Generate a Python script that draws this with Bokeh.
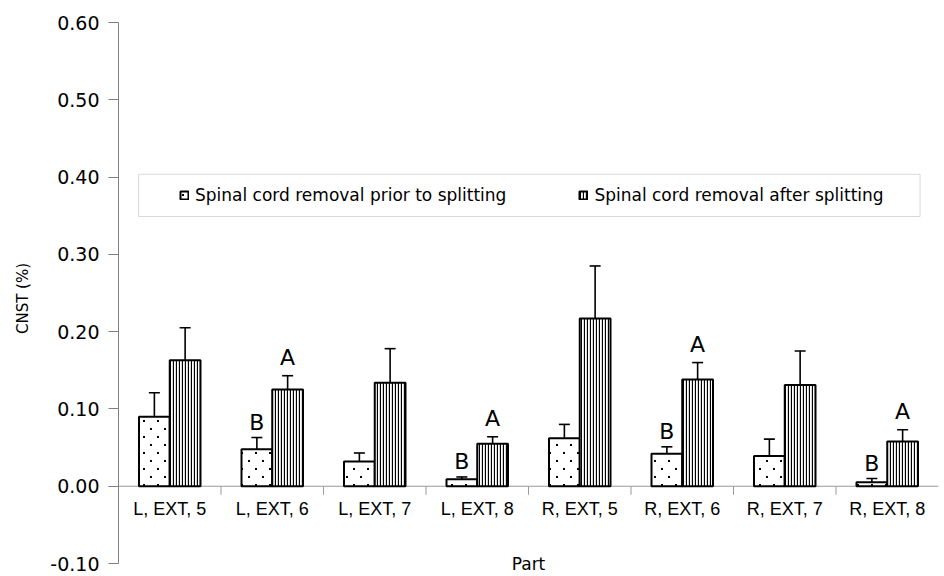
import base64
from bokeh.plotting import figure
from bokeh.models import (Range1d, ColumnDataSource, Whisker, TeeHead, Span, Label,
                          Legend, LegendItem, BoxAnnotation, FixedTicker, NumeralTickFormatter,
                          ImageURLTexture)
from bokeh.core.properties import value
from bokeh.embed import file_html
from bokeh.resources import INLINE

# ---------------- data ----------------
categories = ["L, EXT, 5", "L, EXT, 6", "L, EXT, 7", "L, EXT, 8",
              "R, EXT, 5", "R, EXT, 6", "R, EXT, 7", "R, EXT, 8"]
prior_mean = [0.090, 0.048, 0.032, 0.009, 0.062, 0.042, 0.039, 0.005]
prior_err = [0.031, 0.015, 0.011, 0.003, 0.018, 0.009, 0.022, 0.005]
after_mean = [0.163, 0.125, 0.134, 0.055, 0.217, 0.138, 0.131, 0.058]
after_err = [0.042, 0.018, 0.044, 0.009, 0.068, 0.022, 0.044, 0.015]
prior_letters = ["", "B", "", "B", "", "B", "", "B"]
after_letters = ["", "A", "", "A", "", "A", "", "A"]
series_names = ["Spinal cord removal prior to splitting",
                "Spinal cord removal after splitting"]
y_ticks = [-0.10, 0.00, 0.10, 0.20, 0.30, 0.40, 0.50, 0.60]
y_label = "CNST (%)"
x_label = "Part"

# ---------------- styling constants ----------------
BAR_W = 0.30
TICK_LEN = 0.011
Y_PAD = 0.0142          # room below the axis end for the "Part" title
AXIS_GRAY = "#808080"
ZERO_GRAY = "#9a9a9a"
FONT = "DejaVu Sans"
LBL_FONT = "Liberation Sans"

# sparse staggered dot texture (styling only)
dot_svg = ("<svg xmlns='http://www.w3.org/2000/svg' width='14' height='16'>"
           "<rect x='3' y='4' width='2' height='2' fill='black'/>"
           "<rect x='10' y='12' width='2' height='2' fill='black'/></svg>")
dot_url = "data:image/svg+xml;base64," + base64.b64encode(dot_svg.encode()).decode()
dot_texture = ImageURLTexture(url=dot_url, repetition="repeat")

n = len(categories)
centers = [i + 0.5 for i in range(n)]
src = ColumnDataSource(dict(
    xp=[c - BAR_W / 2 for c in centers],
    xa=[c + BAR_W / 2 for c in centers],
    prior=prior_mean,
    after=after_mean,
    prior_hi=[m + e for m, e in zip(prior_mean, prior_err)],
    prior_lo=[m - e for m, e in zip(prior_mean, prior_err)],
    after_hi=[m + e for m, e in zip(after_mean, after_err)],
    after_lo=[m - e for m, e in zip(after_mean, after_err)],
    pl=prior_letters,
    al=after_letters,
))

p = figure(width=940, height=574, x_range=Range1d(0, n),
           y_range=Range1d(y_ticks[0] - Y_PAD, y_ticks[-1]),
           output_backend="svg", toolbar_location=None, x_axis_location=None,
           min_border_left=118, min_border_right=2, min_border_top=22, min_border_bottom=0)
p.grid.visible = False
p.outline_line_color = None
p.background_fill_color = "white"

# y axis
yax = p.yaxis[0]
yax.bounds = (y_ticks[0], y_ticks[-1])
yax.ticker = FixedTicker(ticks=y_ticks, minor_ticks=[])
yax.formatter = NumeralTickFormatter(format="0.00")
yax.major_tick_out = 10
yax.major_tick_in = 0
yax.minor_tick_out = 0
yax.axis_line_color = AXIS_GRAY
yax.major_tick_line_color = AXIS_GRAY
yax.major_label_standoff = 9
yax.major_label_text_font = FONT
yax.major_label_text_font_size = "19px"
yax.major_label_text_color = "black"
yax.axis_label = y_label
yax.axis_label_text_font = FONT
yax.axis_label_text_font_size = "15px"
yax.axis_label_text_font_style = "normal"
yax.axis_label_text_color = "black"
yax.axis_label_standoff = 15

# zero line + category boundary ticks
p.add_layout(Span(location=0, dimension="width", line_color=ZERO_GRAY, line_width=1, level="underlay"))
bounds = list(range(1, n))
p.segment(x0=bounds, x1=bounds, y0=[0] * len(bounds), y1=[-TICK_LEN] * len(bounds),
          line_color=ZERO_GRAY, line_width=1)

# bars
r1 = p.vbar(x="xp", top="prior", width=BAR_W, source=src, fill_color="white",
            line_color="black", line_width=2, hatch_pattern=dict(value="dots"),
            hatch_extra={"dots": dot_texture})
r2 = p.vbar(x="xa", top="after", width=BAR_W, source=src, fill_color="white",
            line_color="black", line_width=2, hatch_pattern="|", hatch_color="black",
            hatch_scale=3, hatch_weight=1.3)

# error bars
for base, hi, lo in (("xp", "prior_hi", "prior_lo"), ("xa", "after_hi", "after_lo")):
    p.add_layout(Whisker(source=src, base=base, upper=hi, lower=lo, dimension="height",
                         line_color="black", line_width=1.6,
                         upper_head=TeeHead(size=11, line_color="black", line_width=1.6),
                         lower_head=TeeHead(size=11, line_color="black", line_width=1.6)))

# significance letters
p.text(x="xp", y="prior_hi", text="pl", source=src, text_align="center", text_baseline="bottom",
       y_offset=-3, text_font=value(FONT), text_font_size=value("22px"), text_color="black")
p.text(x="xa", y="after_hi", text="al", source=src, text_align="center", text_baseline="bottom",
       y_offset=-6, text_font=value(FONT), text_font_size=value("22px"), text_color="black")

# category labels
p.text(x=centers, y=[0] * n, text=categories, text_align="center", text_baseline="top",
       y_offset=13, text_font=value(LBL_FONT), text_font_size=value("18px"), text_color="black")

# x axis title
p.add_layout(Label(x=n / 2, y=y_ticks[0], text=x_label, text_align="center", text_baseline="middle",
                   text_font=FONT, text_font_size="17px", text_color="black"))

# legend box + legend
p.add_layout(BoxAnnotation(left=0.196, right=7.82, bottom=0.349, top=0.4036, fill_alpha=0,
                           line_color=AXIS_GRAY, line_width=1))
legend = Legend(items=[LegendItem(label=series_names[0], renderers=[r1]),
                       LegendItem(label=series_names[1], renderers=[r2])],
                orientation="horizontal", location=(61, 369), padding=0, margin=0,
                spacing=72, glyph_width=10, glyph_height=10, label_standoff=6,
                label_height=20, label_text_font=FONT, label_text_font_size="17px",
                label_text_color="black",
                border_line_color=None, background_fill_alpha=0)
p.add_layout(legend, "center")

open("out.html", "w").write(file_html(p, INLINE))
